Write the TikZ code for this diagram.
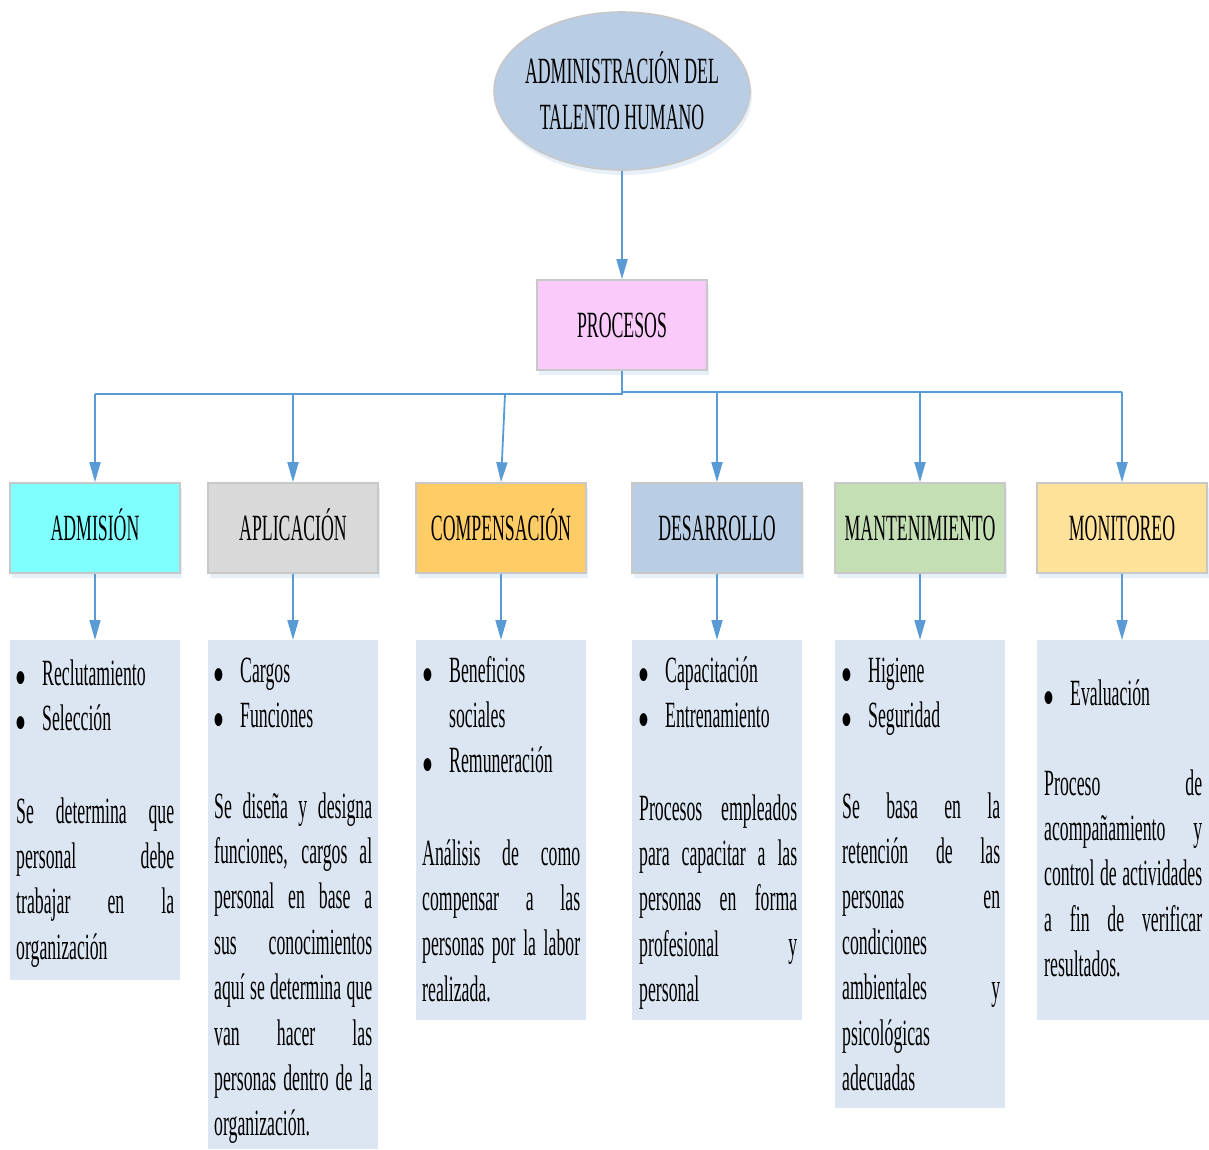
\documentclass[tikz,border=0pt]{standalone}
\usepackage{fontspec}
\setmainfont{Liberation Serif}[FakeStretch=0.48]
\newfontfamily\bulfont{DejaVu Sans}[FakeStretch=0.6]
\usetikzlibrary{arrows.meta,shadows,shapes.geometric}
\definecolor{arrblue}{RGB}{91,155,213}
\definecolor{ellblue}{RGB}{185,205,229}
\definecolor{pinkc}{RGB}{250,202,250}
\definecolor{cyanc}{RGB}{128,255,255}
\definecolor{grayc}{RGB}{217,217,217}
\definecolor{orangec}{RGB}{255,204,102}
\definecolor{greenc}{RGB}{196,223,180}
\definecolor{yellowc}{RGB}{255,226,153}
\definecolor{detbg}{RGB}{220,230,242}
\definecolor{bord}{RGB}{200,200,200}
\newcommand\jline[1]{\hbox to 158pt{#1}}
\newcommand\lline[1]{\hbox to 158pt{#1\hfil}}
\newcommand\bitem[1]{\hbox{\hbox to 26pt{\raisebox{3pt}{\bulfont\fontsize{17}{17}\selectfont ●}\hfil}#1}}
\newcommand\bcont[1]{\hbox{\hbox to 26pt{\hfil}#1}}
\newcommand\stack[1]{\vtop{\baselineskip=45.4pt\lineskiplimit=-200pt\lineskip=0pt #1}}
\begin{document}
\begin{tikzpicture}[x=1pt,y=-1pt,
  shad/.style={drop shadow={shadow xshift=2pt, shadow yshift=-5pt, fill=arrblue, opacity=0.15}},
  box/.style={draw=bord, line width=1.6pt, minimum width=170pt, minimum height=90pt, inner sep=0pt, text height=24pt, text depth=0pt, font=\fontsize{37}{40}\selectfont, shad},
  det/.style={fill=detbg, minimum width=170pt, inner sep=0pt, anchor=north west, draw=none},
  arr/.style={draw=arrblue, line width=1.8pt, -{Triangle[length=20pt,width=11pt]}},
  busline/.style={draw=arrblue, line width=2.2pt},
  txt/.style={anchor=base west, inner sep=0pt, font=\fontsize{37}{45}\selectfont}]
\useasboundingbox (0,0) rectangle (1209,1149);

% top
\node[ellipse, draw=bord, line width=1.6pt, fill=ellblue, minimum width=256pt, minimum height=158pt, inner sep=0pt, shad] (adm) at (622,91) {};
\node[inner sep=0pt, align=center, font=\fontsize{37}{46}\selectfont] (admt) at (622,91) {ADMINISTRACIÓN DEL\\TALENTO HUMANO};
\node[box, fill=pinkc] (proc) at (622,325) {PROCESOS};
\draw[arr] (adm.south) -- (proc.north);

% categories
\node[box, fill=cyanc] (c1) at (95,528) {ADMISIÓN};
\node[box, fill=grayc] (c2) at (293,528) {APLICACIÓN};
\node[box, fill=orangec] (c3) at (501,528) {COMPENSACIÓN};
\node[box, fill=ellblue] (c4) at (717,528) {DESARROLLO};
\node[box, fill=greenc] (c5) at (920,528) {MANTENIMIENTO};
\node[box, fill=yellowc] (c6) at (1122,528) {MONITOREO};

% bus
\coordinate (j) at (622,394);
\coordinate (jr) at (622,392);
\coordinate (b1) at (95,394);
\coordinate (b2) at (293,394);
\coordinate (b3) at (505,394);
\coordinate (b4) at (717,392);
\coordinate (b5) at (920,392);
\coordinate (b6) at (1122,392);
\draw[busline] (proc.south) -- (j) -- (b1);
\draw[busline] (jr) -- (b6);
\draw[arr] (b1) -- (c1.north);
\draw[arr] (b2) -- (c2.north);
\draw[arr] (b3) -- (c3.north);
\draw[arr] (b4) -- (c4.north);
\draw[arr] (b5) -- (c5.north);
\draw[arr] (b6) -- (c6.north);

% detail boxes
\node[det, minimum height=340pt] (d1) at (10,640) {};
\node[det, minimum height=509pt] (d2) at (208,640) {};
\node[det, minimum height=380pt] (d3) at (416,640) {};
\node[det, minimum height=380pt] (d4) at (632,640) {};
\node[det, minimum height=468pt] (d5) at (835,640) {};
\node[det, minimum height=380pt, minimum width=172pt] (d6) at (1037,640) {};
\draw[arr] (c1.south) -- (c1.south |- d1.north);
\draw[arr] (c2.south) -- (c2.south |- d2.north);
\draw[arr] (c3.south) -- (c3.south |- d3.north);
\draw[arr] (c4.south) -- (c4.south |- d4.north);
\draw[arr] (c5.south) -- (c5.south |- d5.north);
\draw[arr] (c6.south) -- (c6.south |- d6.north);

% texts
\node[txt] (l1) at (16,685) {\stack{\bitem{Reclutamiento}\bitem{Selección}}};
\node[txt] (p1) at (16,823) {\stack{\jline{Se determina que}\jline{personal debe}\jline{trabajar en la}\lline{organización}}};

\node[txt] (l2) at (214,682) {\stack{\bitem{Cargos}\bitem{Funciones}}};
\node[txt] (p2) at (214,818) {\stack{\jline{Se diseña y designa}\jline{funciones, cargos al}\jline{personal en base a}\jline{sus conocimientos}\jline{aquí se determina que}\jline{van hacer las}\jline{personas dentro de la}\lline{organización.}}};

\node[txt] (l3) at (423,682) {\stack{\bitem{Beneficios}\bcont{sociales}\bitem{Remuneración}}};
\node[txt] (p3) at (422,865) {\stack{\jline{Análisis de como}\jline{compensar a las}\jline{personas por la labor}\lline{realizada.}}};

\node[txt] (l4) at (639,682) {\stack{\bitem{Capacitación}\bitem{Entrenamiento}}};
\node[txt] (p4) at (639,820) {\stack{\jline{Procesos empleados}\jline{para capacitar a las}\jline{personas en forma}\jline{profesional y}\lline{personal}}};

\node[txt] (l5) at (842,682) {\stack{\bitem{Higiene}\bitem{Seguridad}}};
\node[txt] (p5) at (842,818) {\stack{\jline{Se basa en la}\jline{retención de las}\jline{personas en}\lline{condiciones}\jline{ambientales y}\lline{psicológicas}\lline{adecuadas}}};

\node[txt] (l6) at (1044,705) {\stack{\bitem{Evaluación}}};
\node[txt] (p6) at (1044,795) {\stack{\jline{Proceso de}\jline{acompañamiento y}\jline{control de actividades}\jline{a fin de verificar}\lline{resultados.}}};
\end{tikzpicture}
\end{document}
